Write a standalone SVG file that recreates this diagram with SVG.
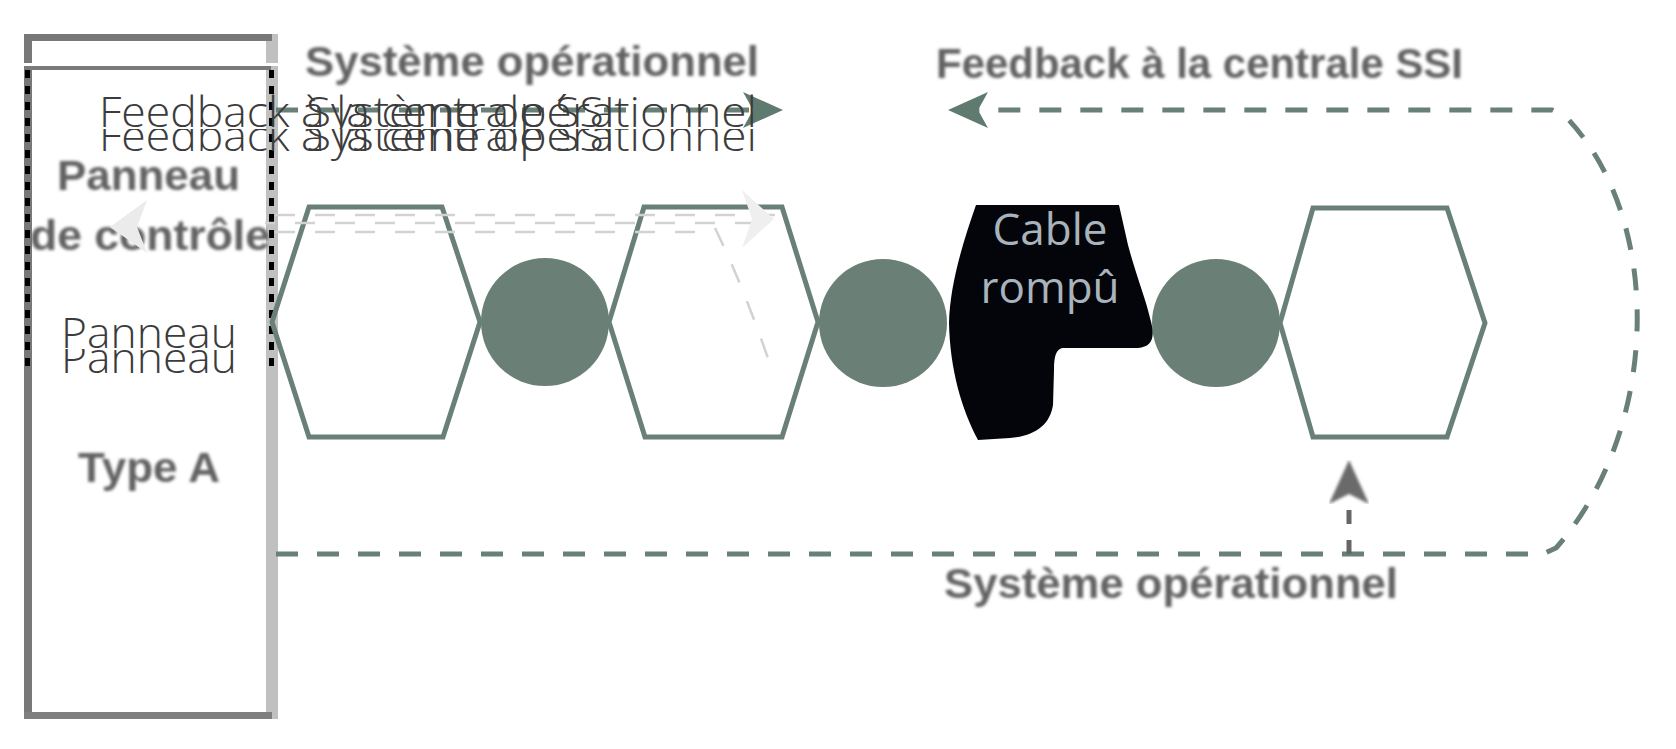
<svg xmlns="http://www.w3.org/2000/svg" width="1676" height="749" viewBox="0 0 1676 749">
<style>
.lbl{font-family:"Liberation Sans",Arial,sans-serif;font-weight:bold;font-size:42px;fill:#626262;filter:url(#blur)}
.ghost{font-family:"Open Sans","Noto Sans",sans-serif;font-weight:300;font-size:42px;fill:#3c3c3c}
.hex{fill:none;stroke:#688078;stroke-width:5;stroke-linejoin:miter}
.dot{fill:#6a8077}
.dash{fill:none;stroke:#688078;stroke-width:5;stroke-dasharray:22 19}
.faint{fill:none;stroke:#d2d2d2;stroke-width:2.5;stroke-dasharray:20 20}
.cable{font-family:"Open Sans","Noto Sans",sans-serif;font-size:44px;fill:#a9b3bb;text-anchor:middle}
</style>
<defs>
<filter id="blur" x="-10%" y="-30%" width="120%" height="160%"><feGaussianBlur stdDeviation="1.4"/></filter>
<clipPath id="cA"><rect x="0" y="0" width="1676" height="129"/></clipPath>
<clipPath id="cB"><rect x="0" y="129" width="1676" height="40"/></clipPath>
<clipPath id="pA"><rect x="0" y="280" width="300" height="69"/></clipPath>
<clipPath id="pB"><rect x="0" y="349" width="300" height="40"/></clipPath>
<marker id="arrG" viewBox="0 0 40 36" refX="10" refY="18" markerWidth="40" markerHeight="36" markerUnits="userSpaceOnUse" orient="auto">
<path d="M0,0 L40,18 L0,36 L10,18 Z" fill="#5f7a6f"/>
</marker>
<marker id="arrK" viewBox="0 0 44 40" refX="10" refY="20" markerWidth="44" markerHeight="40" markerUnits="userSpaceOnUse" orient="auto">
<path d="M0,0 L44,20 L0,40 L10,20 Z" fill="#6a6a6a" filter="url(#blur)"/>
</marker>
</defs>
<rect width="1676" height="749" fill="#ffffff"/>

<g id="panel">
<rect x="24" y="34" width="8" height="685" fill="#787878"/>
<rect x="266" y="34" width="12" height="685" fill="#c0c0c0"/>
<rect x="24" y="34" width="248" height="7" fill="#787878"/>
<rect x="24" y="712" width="248" height="7" fill="#7f7f7f"/>
<rect x="24" y="63" width="256" height="3" fill="#ffffff"/>
<rect x="24" y="66" width="247" height="4" fill="#7a7a7a"/>
<line x1="27.5" y1="70" x2="27.5" y2="372" stroke="#000" stroke-width="5" stroke-dasharray="8 8"/>
<line x1="271.5" y1="70" x2="271.5" y2="372" stroke="#000" stroke-width="5" stroke-dasharray="8 8"/>
<text class="lbl" x="57" y="190" font-size="44" textLength="183" lengthAdjust="spacingAndGlyphs">Panneau</text>
<text class="lbl" x="30" y="250" font-size="44" textLength="240" lengthAdjust="spacingAndGlyphs">de contrôle</text>
<text class="lbl" x="78" y="482" font-size="42" textLength="142" lengthAdjust="spacingAndGlyphs">Type A</text>
<g clip-path="url(#pA)"><text class="ghost" x="61" y="348" font-size="46" textLength="176" lengthAdjust="spacingAndGlyphs">Panneau</text></g>
<g clip-path="url(#pB)"><text class="ghost" x="61" y="373" font-size="46" textLength="176" lengthAdjust="spacingAndGlyphs">Panneau</text></g>
</g>

<g id="circle1"><circle class="dot" cx="545" cy="322" r="64"/></g>
<g id="circle2"><circle class="dot" cx="883" cy="323" r="64"/></g>
<g id="circle3"><circle class="dot" cx="1216" cy="323" r="64"/></g>

<g id="hex1"><polygon class="hex" points="272,322 309,207 442,207 480,322 443,437 309,437"/></g>
<g id="hex2"><polygon class="hex" points="609,322 644,207 782,207 818,322 782,437 645,437"/></g>
<g id="hex3"><polygon class="hex" points="1280,323 1313,208 1447,208 1485,323 1447,437 1313,437"/></g>

<g id="broken-cable">
<path d="M 976 205 L 1119 205 L 1128 245 C 1136 275 1146 300 1150 318 C 1156 338 1152 347 1138 348 L 1062 348 C 1056 350 1054 356 1054 370 L 1053 405 C 1050 425 1035 436 1010 438 L 978 440 C 962 410 950 370 949 323 C 950 285 962 245 976 205 Z" fill="#03050a"/>
<text class="cable" x="1050" y="245">Cable</text>
<text class="cable" x="1050" y="303">rompû</text>
</g>

<g id="connectors">
<path class="dash" d="M 276 110 H 753" marker-end="url(#arrG)"/>
<path class="dash" d="M 276 554 H 1543 L 1556 548 C 1660 430 1665 220 1566 117 L 1552 110 H 978" marker-end="url(#arrG)"/>
<path d="M 1349 554 V 494" fill="none" stroke="#666" stroke-width="5" stroke-dasharray="14 16" marker-end="url(#arrK)"/>
</g>

<g id="ghosts">
<line class="faint" x1="275" y1="215" x2="775" y2="215"/>
<line class="faint" x1="265" y1="223" x2="760" y2="223" stroke-dashoffset="10"/>
<line class="faint" x1="275" y1="232" x2="700" y2="232"/>
<path class="faint" d="M 715 228 Q 745 290 772 370" stroke-width="3" stroke-dasharray="22 34"/>
<polygon points="110,227 147,200 137,227 147,253" fill="#ebebeb"/>
<polygon points="742,190 774,219 742,248 752,219" fill="#efefef"/>
</g>

<g id="labels">
<text class="lbl" x="305" y="76" textLength="454" lengthAdjust="spacingAndGlyphs">Système opérationnel</text>
<text class="lbl" x="936" y="78" textLength="527" lengthAdjust="spacingAndGlyphs">Feedback à la centrale SSI</text>
<text class="lbl" x="944" y="598" textLength="454" lengthAdjust="spacingAndGlyphs">Système opérationnel</text>
<g clip-path="url(#cA)">
<text class="ghost" x="99" y="127" textLength="516" lengthAdjust="spacingAndGlyphs">Feedback à la centrale SSI</text>
<text class="ghost" x="306" y="127" textLength="451" lengthAdjust="spacingAndGlyphs">Système opérationnel</text>
</g>
<g clip-path="url(#cB)">
<text class="ghost" x="99" y="151" textLength="516" lengthAdjust="spacingAndGlyphs">Feedback à la centrale SSI</text>
<text class="ghost" x="306" y="151" textLength="451" lengthAdjust="spacingAndGlyphs">Système opérationnel</text>
</g>
</g>
</svg>
